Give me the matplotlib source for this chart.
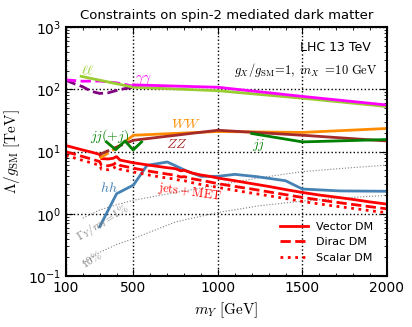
import matplotlib
matplotlib.use("Agg")
import matplotlib.pyplot as plt
from matplotlib.ticker import MultipleLocator, FixedLocator

plt.rcParams['mathtext.fontset'] = 'cm'

# ---- data ----
ll_m = [190, 500, 1000, 1500, 2000]
ll_L = [162, 108, 95, 72, 53]

aa_m = [500, 1000, 1500, 2000]
aa_L = [118, 108, 77, 56]

purple_m = [100, 150, 200, 250, 300, 350, 400, 450, 500]
purple_L = [140, 123, 110, 93, 86, 88, 96, 103, 108]

magdash_m = [100, 200, 260, 300, 400, 450, 500]
magdash_L = [142, 135, 136, 136, 127, 120, 112]

ww_dash_m = [300, 400, 500]
ww_dash_L = [7.8, 11.5, 18.3]
ww_m = [500, 1000, 1500, 2000]
ww_L = [18.3, 21.0, 20.3, 23.5]

zz_dash_m = [300, 400, 500]
zz_dash_L = [9.0, 11.8, 15.2]
zz_m = [500, 1000, 1500, 2000]
zz_L = [15.2, 22.0, 18.3, 14.8]

jjj_m = [340, 395, 450, 498, 548]
jjj_L = [14.3, 10.7, 14.8, 10.6, 14.3]

jj_m = [1200, 1500, 2000]
jj_L = [19.5, 14.3, 15.6]

hh_m = [300, 400, 500, 580, 700, 820, 900, 1000, 1100, 1230, 1400, 1500, 1720, 2000]
hh_L = [0.62, 2.1, 2.9, 6.0, 6.8, 4.8, 4.0, 4.0, 4.3, 3.95, 3.4, 2.5, 2.33, 2.3]

met_m = [100, 150, 200, 250, 300, 310, 350, 380, 400, 420, 500, 600, 700, 750,
         780, 800, 850, 900, 950, 1000, 1100, 1200, 1300, 1400, 1500, 1600, 1700,
         1800, 1900, 2000]
vector_L = [12.5, 11.5, 10.6, 9.8, 9.0, 7.7, 7.6, 7.8, 8.3, 7.3, 6.6, 6.0, 5.5, 5.3,
            4.9, 5.0, 4.5, 4.2, 4.0, 3.75, 3.4, 3.05, 2.75, 2.45, 2.2, 2.0, 1.85,
            1.7, 1.55, 1.43]
dirac_L = [9.9, 9.1, 8.3, 7.6, 6.9, 6.0, 5.9, 6.2, 6.7, 6.0, 5.4, 4.8, 4.35, 4.15,
           3.9, 3.95, 3.65, 3.45, 3.25, 3.05, 2.75, 2.5, 2.25, 2.03, 1.83, 1.67, 1.53,
           1.41, 1.3, 1.2]
scalar_L = [8.6, 7.9, 7.2, 6.6, 6.0, 5.2, 5.1, 5.4, 5.8, 5.2, 4.7, 4.15, 3.75, 3.6,
            3.4, 3.4, 3.15, 2.95, 2.8, 2.65, 2.38, 2.15, 1.95, 1.76, 1.58, 1.44, 1.32,
            1.22, 1.12, 1.04]

w1_m = [200, 300, 400, 500, 750, 1000, 1250, 1500, 1750, 2000]
w1_L = [0.85, 1.15, 1.4, 1.65, 2.2, 2.9, 3.8, 4.75, 5.4, 6.05]
w10_m = [200, 300, 400, 500, 750, 1000, 1250, 1500, 1750, 2000]
w10_L = [0.16, 0.24, 0.32, 0.40, 0.74, 1.05, 1.35, 1.6, 1.8, 1.98]

xticks = [100, 500, 1000, 1500, 2000]
legend_labels = ["Vector DM", "Dirac DM", "Scalar DM"]

# ---- figure ----
fig = plt.figure(figsize=(4.12, 3.27), dpi=100)
ax = fig.add_axes([0.160, 0.156, 0.779, 0.761])

lw = 2.0
ax.plot(w1_m, w1_L, ls=':', color='gray', lw=0.8)
ax.plot(w10_m, w10_L, ls=':', color='gray', lw=0.8)

ax.plot(hh_m, hh_L, color='steelblue', lw=lw)

l1, = ax.plot(met_m, vector_L, color='red', lw=lw, ls='-')
l2, = ax.plot(met_m, dirac_L, color='red', lw=lw, ls='--')
l3, = ax.plot(met_m, scalar_L, color='red', lw=lw, ls=':')

ax.plot(ww_dash_m, ww_dash_L, color='darkorange', lw=lw, ls='--')
ax.plot(zz_dash_m, zz_dash_L, color='brown', lw=lw, ls='--')
ax.plot(ww_m, ww_L, color='darkorange', lw=lw)
ax.plot(zz_m, zz_L, color='brown', lw=lw)
ax.plot(jjj_m, jjj_L, color='green', lw=lw)
ax.plot(jj_m, jj_L, color='green', lw=lw)

ax.plot(purple_m, purple_L, color='purple', lw=lw, ls='--')
ax.plot(magdash_m, magdash_L, color='magenta', lw=lw, ls='--')
ax.plot(ll_m, ll_L, color='yellowgreen', lw=lw)
ax.plot(aa_m, aa_L, color='magenta', lw=lw)

ax.set_yscale('log')
ax.set_xlim(100, 2000)
ax.set_ylim(0.1, 1000)
ax.xaxis.set_major_locator(FixedLocator(xticks))
ax.set_xticklabels([str(t) for t in xticks])
ax.xaxis.set_minor_locator(MultipleLocator(100))
ax.tick_params(which='both', direction='in', top=True, right=True)
ax.tick_params(which='major', length=5, labelsize=10)
ax.tick_params(which='minor', length=2.5)
ax.grid(True, which='major', ls=':', color='black', lw=1)
for s in ax.spines.values():
    s.set_linewidth(1.5)

ax.set_xlabel(r'$m_Y\ [\mathrm{GeV}]$', fontsize=11)
ax.set_ylabel(r'$\Lambda/g_{\mathrm{SM}}\ [\mathrm{TeV}]$', fontsize=11)
ax.set_title('Constraints on spin-2 mediated dark matter', fontsize=9.5)

ax.text(0.95, 0.905, 'LHC 13 TeV', transform=ax.transAxes, ha='right', fontsize=9)
ax.text(0.97, 0.81, r'$g_X/g_{\mathrm{SM}}\!=\!1,\ m_X\ =\!10\ \mathrm{GeV}$',
        transform=ax.transAxes, ha='right', fontsize=9)

ax.text(190, 175, r'$\ell\ell$', color='yellowgreen', fontsize=10)
ax.text(510, 137, r'$\gamma\gamma$', color='magenta', fontsize=10)
ax.text(240, 15.5, r'$jj(+j)$', color='green', fontsize=10)
ax.text(720, 24, r'$WW$', color='darkorange', fontsize=10)
ax.text(690, 11.5, r'$ZZ$', color='brown', fontsize=10)
ax.text(1200, 11.5, r'$jj$', color='green', fontsize=10)
ax.text(300, 2.2, r'$hh$', color='steelblue', fontsize=10)
ax.text(640, 1.7, r'$\mathrm{jets}+\mathrm{MET}$', color='red', fontsize=9, rotation=-8)
ax.text(145, 0.38, r'$\Gamma_Y/m_Y\!=\!1\%$', color='gray', fontsize=8, rotation=32)
ax.text(175, 0.135, r'$10\%$', color='gray', fontsize=8, rotation=32)

ax.legend([l1, l2, l3], legend_labels, loc='lower right', frameon=False,
          fontsize=8, handlelength=2.5, borderaxespad=0.8)

fig.savefig('out.png', dpi=100)
